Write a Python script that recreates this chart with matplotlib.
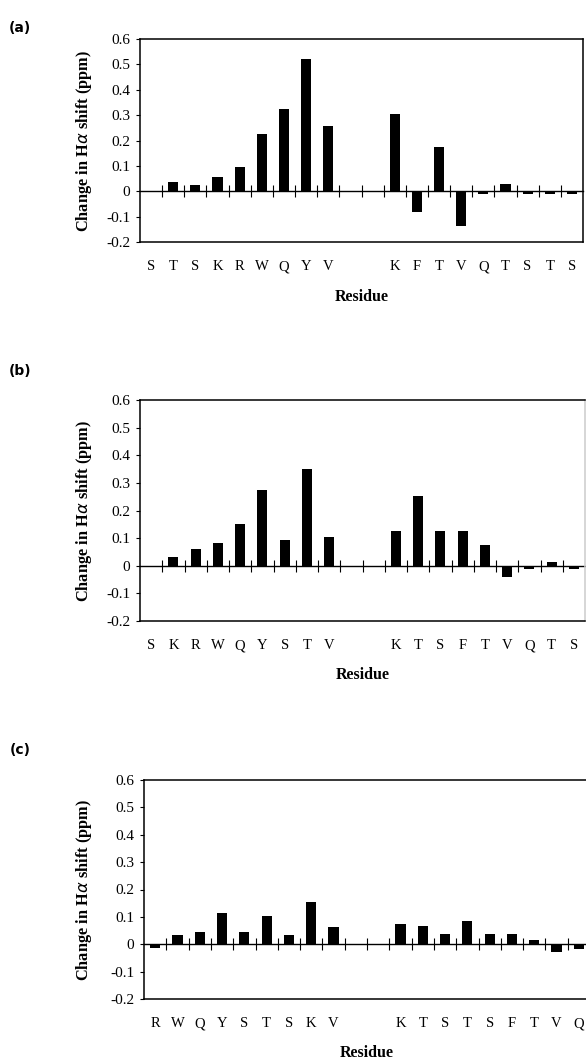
import numpy as np
import matplotlib.pyplot as plt

# residues per panel ('' = empty gap category)
res_a = ['S', 'T', 'S', 'K', 'R', 'W', 'Q', 'Y', 'V', '', '',
         'K', 'F', 'T', 'V', 'Q', 'T', 'S', 'T', 'S']
shift_a = [0.0, 0.035, 0.023, 0.055, 0.094, 0.226, 0.326, 0.523, 0.256, 0.0, 0.0,
           0.306, -0.081, 0.176, -0.138, -0.010, 0.027, -0.010, -0.009, -0.010]

res_b = ['S', 'K', 'R', 'W', 'Q', 'Y', 'S', 'T', 'V', '', '',
         'K', 'T', 'S', 'F', 'T', 'V', 'Q', 'T', 'S']
shift_b = [0.0, 0.031, 0.062, 0.083, 0.152, 0.273, 0.094, 0.352, 0.103, 0.0, 0.0,
           0.124, 0.254, 0.124, 0.124, 0.076, -0.041, -0.011, 0.014, -0.011]

res_c = ['R', 'W', 'Q', 'Y', 'S', 'T', 'S', 'K', 'V', '', '',
         'K', 'T', 'S', 'T', 'S', 'F', 'T', 'V', 'Q']
shift_c = [-0.015, 0.033, 0.044, 0.113, 0.044, 0.103, 0.033, 0.154, 0.064, 0.0, 0.0,
           0.073, 0.066, 0.036, 0.085, 0.036, 0.036, 0.017, -0.028, -0.019]

panel_names = ['(a)', '(b)', '(c)']
yticks = [-0.2, -0.1, 0, 0.1, 0.2, 0.3, 0.4, 0.5, 0.6]
ytick_labels = ['-0.2', '-0.1', '0', '0.1', '0.2', '0.3', '0.4', '0.5', '0.6']

W, H = 586, 1059
fig = plt.figure(figsize=(W / 100, H / 100), dpi=100)
serif = 'Liberation Serif'

# pixel boxes: left, right, top, bottom ; residue label y ; panel label y
boxes = [(140, 583, 39, 242, 297, 28),
         (140, 585, 400, 621, 675, 371),
         (144, 590, 780, 999, 1053, 750)]

for (res, vals), name, (l, r, t, b, xl_y, pl_y) in zip(
        [(res_a, shift_a), (res_b, shift_b), (res_c, shift_c)], panel_names, boxes):
    ax = fig.add_axes([l / W, 1 - b / H, (r - l) / W, (b - t) / H])
    x = np.arange(len(res))
    ax.bar(x, vals, width=0.46, color='black', linewidth=0)
    ax.set_xlim(-0.5, len(res) - 0.5)
    ax.set_ylim(-0.2, 0.6)
    for s in ax.spines.values():
        s.set_linewidth(1.1)
    if name != '(a)':
        ax.spines['right'].set_color('#cccccc')

    ax.set_yticks(yticks)
    ax.set_yticklabels(ytick_labels, fontfamily=serif, fontsize=11)
    ax.tick_params(axis='y', direction='out', length=3, width=0.8, pad=4)
    ax.set_xticks(x)
    ax.set_xticklabels(res, fontfamily=serif, fontsize=10.5)
    ax.tick_params(axis='x', length=0, pad=13)

    # category axis crossing at zero with boundary ticks
    zero_loc = (0 - ax.get_ylim()[0]) / (ax.get_ylim()[1] - ax.get_ylim()[0])
    sec = ax.secondary_xaxis(zero_loc)
    sec.set_xticks(np.arange(0.5, len(res) - 0.5, 1.0))
    sec.tick_params(direction='inout', length=8, width=0.8, labelbottom=False)
    sec.spines['bottom'].set_linewidth(1.0)

    ax.set_ylabel(r'Change in H$\alpha$ shift (ppm)', fontfamily=serif,
                  fontweight='bold', fontsize=11.8)
    ax.yaxis.set_label_coords((84 - l) / (r - l), 0.5)
    ax.yaxis.label.set_va('center')
    ax.set_xlabel('Residue', fontfamily=serif, fontweight='bold', fontsize=11.5)
    ax.xaxis.set_label_coords(0.5, -(xl_y - b) / (b - t))
    ax.xaxis.label.set_va('center')

    fig.text(20 / W, 1 - pl_y / H, name, fontfamily='DejaVu Sans',
             fontweight='bold', fontsize=10, ha='center', va='center')

fig.savefig('out.png', dpi=100)
